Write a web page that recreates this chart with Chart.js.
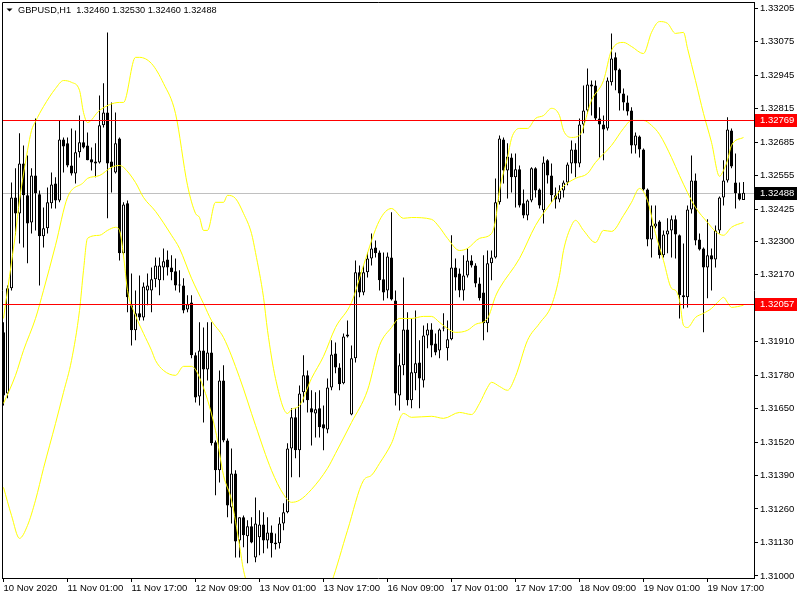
<!DOCTYPE html>
<html>
<head>
<meta charset="utf-8">
<script src="https://cdn.jsdelivr.net/npm/chart.js@4.4.1/dist/chart.umd.min.js"></script>
<style>
  html, body { margin: 0; padding: 0; background: #fff; }
  #wrap { width: 800px; height: 600px; }
</style>
</head>
<body>
<div id="wrap"><canvas id="chartPrecio" width="800" height="600"></canvas></div>
<script>
const simbolo = "GBPUSD,H1";

// velas H1, una por hora desde 10 Nov 09:00
const opens = [
  1.31946,1.31709,1.32117,1.32470,1.32408,1.32602,1.32478,1.32373,1.32555,1.32482,
  1.32319,1.32350,1.32447,1.32524,1.32458,1.32695,1.32680,1.32594,1.32563,1.32645,
  1.32684,1.32672,1.32618,1.32610,1.32606,1.32750,1.32800,1.32610,1.32567,1.32699,
  1.32253,1.32447,1.32051,1.31954,1.32020,1.32004,1.32109,1.32109,1.32152,1.32148,
  1.32198,1.32229,1.32198,1.32183,1.32132,1.32128,1.32035,1.32062,1.31857,1.31697,
  1.31876,1.31802,1.31868,1.31519,1.31410,1.31759,1.31526,1.31266,1.31398,1.31138,
  1.31228,1.31154,1.31193,1.31072,1.31150,1.31200,1.31138,1.31169,1.31130,1.31127,
  1.31204,1.31247,1.31495,1.31616,1.31488,1.31713,1.31779,1.31651,1.31631,1.31651,
  1.31589,1.31569,1.31732,1.31864,1.31810,1.31748,1.31930,1.31627,1.31845,1.32179,
  1.32101,1.32179,1.32233,1.32276,1.32256,1.32152,1.32109,1.32237,1.32070,1.31701,
  1.31818,1.31957,1.31682,1.31787,1.31829,1.31759,1.31934,1.31957,1.31903,1.31876,
  1.31961,1.31884,1.31919,1.32198,1.32175,1.32109,1.32167,1.32225,1.32206,1.32136,
  1.32101,1.31981,1.32214,1.32237,1.32451,1.32695,1.32575,1.32625,1.32548,1.32579,
  1.32447,1.32400,1.32458,1.32583,1.32501,1.32420,1.32614,1.32555,1.32478,1.32462,
  1.32497,1.32528,1.32602,1.32656,1.32602,1.32753,1.32808,1.32909,1.32905,1.32777,
  1.32753,1.32738,1.32917,1.33014,1.32967,1.32874,1.32839,1.32808,1.32672,1.32707,
  1.32656,1.32501,1.32307,1.32357,1.32377,1.32245,1.32326,1.32342,1.32385,1.32323,
  1.32090,1.32082,1.32423,1.32536,1.32307,1.32272,1.32198,1.32245,1.32229,1.32342,
  1.32470,1.32536,1.32730,1.32528,1.32486,1.32460
];
const highs = [
  1.31985,1.32128,1.32528,1.32583,1.32719,1.32672,1.32633,1.32583,1.32777,1.32497,
  1.32431,1.32509,1.32567,1.32548,1.32769,1.32703,1.32703,1.32738,1.32730,1.32788,
  1.32769,1.32722,1.32664,1.32680,1.32866,1.32913,1.33111,1.32839,1.32800,1.32703,
  1.32451,1.32458,1.32175,1.32109,1.32167,1.32140,1.32175,1.32198,1.32237,1.32237,
  1.32272,1.32264,1.32245,1.32233,1.32187,1.32156,1.32090,1.32090,1.31868,1.31985,
  1.31965,1.31985,1.31985,1.31526,1.31798,1.31818,1.31534,1.31495,1.31410,1.31228,
  1.31235,1.31216,1.31228,1.31305,1.31255,1.31247,1.31228,1.31196,1.31165,1.31228,
  1.31282,1.31515,1.31651,1.31651,1.31740,1.31857,1.31798,1.31721,1.31713,1.31721,
  1.31662,1.31767,1.31915,1.31907,1.31826,1.31942,1.31992,1.31895,1.32225,1.32206,
  1.32206,1.32256,1.32330,1.32303,1.32264,1.32256,1.32256,1.32412,1.32109,1.31864,
  1.32159,1.32024,1.32000,1.32031,1.31915,1.31973,1.31981,1.31981,1.31942,1.31961,
  1.32020,1.31992,1.32323,1.32233,1.32194,1.32245,1.32272,1.32245,1.32214,1.32159,
  1.32245,1.32264,1.32264,1.32544,1.32711,1.32703,1.32680,1.32641,1.32641,1.32594,
  1.32501,1.32462,1.32587,1.32587,1.32505,1.32629,1.32618,1.32602,1.32509,1.32517,
  1.32536,1.32606,1.32691,1.32680,1.32777,1.32905,1.32971,1.32924,1.32924,1.32820,
  1.32788,1.32936,1.33107,1.33033,1.32971,1.32893,1.32866,1.32820,1.32722,1.32711,
  1.32660,1.32505,1.32439,1.32439,1.32381,1.32342,1.32389,1.32400,1.32400,1.32326,
  1.32291,1.32439,1.32633,1.32563,1.32330,1.32276,1.32385,1.32272,1.32361,1.32474,
  1.32614,1.32781,1.32738,1.32641,1.32528,1.32530
];
const lows = [
  1.31662,1.31690,1.32109,1.32323,1.32291,1.32276,1.32214,1.32330,1.32342,1.32128,
  1.32276,1.32330,1.32427,1.32427,1.32451,1.32567,1.32587,1.32555,1.32524,1.32625,
  1.32660,1.32614,1.32575,1.32548,1.32602,1.32742,1.32389,1.32489,1.32563,1.32225,
  1.32245,1.32024,1.31895,1.31915,1.31992,1.31992,1.32051,1.32024,1.32121,1.32090,
  1.32148,1.32167,1.32148,1.32109,1.32101,1.32020,1.32024,1.31845,1.31674,1.31662,
  1.31596,1.31759,1.31507,1.31313,1.31363,1.31519,1.31228,1.31204,1.31072,1.31072,
  1.31111,1.31049,1.31127,1.31053,1.31080,1.31088,1.31107,1.31072,1.31103,1.31107,
  1.31177,1.31243,1.31383,1.31457,1.31383,1.31674,1.31635,1.31507,1.31538,1.31538,
  1.31488,1.31554,1.31721,1.31787,1.31721,1.31744,1.31926,1.31624,1.31829,1.32082,
  1.32090,1.32159,1.32206,1.32237,1.32109,1.32070,1.32078,1.32070,1.31662,1.31643,
  1.31779,1.31662,1.31651,1.31721,1.31651,1.31732,1.31884,1.31849,1.31857,1.31845,
  1.31950,1.31837,1.31915,1.32109,1.32082,1.32070,1.32159,1.32198,1.32121,1.32070,
  1.31915,1.31946,1.32148,1.32233,1.32443,1.32524,1.32466,1.32489,1.32431,1.32431,
  1.32389,1.32381,1.32451,1.32470,1.32427,1.32369,1.32524,1.32451,1.32427,1.32451,
  1.32470,1.32517,1.32563,1.32548,1.32587,1.32719,1.32796,1.32788,1.32769,1.32625,
  1.32614,1.32730,1.32905,1.32886,1.32808,1.32808,1.32788,1.32641,1.32641,1.32625,
  1.32497,1.32280,1.32237,1.32350,1.32233,1.32237,1.32253,1.32237,1.32233,1.32000,
  1.32039,1.32043,1.32408,1.32284,1.32264,1.31946,1.32078,1.32109,1.32198,1.32330,
  1.32439,1.32528,1.32583,1.32427,1.32458,1.32460
];
const closes = [
  1.31701,1.32117,1.32470,1.32408,1.32602,1.32478,1.32369,1.32555,1.32486,1.32319,
  1.32350,1.32451,1.32520,1.32458,1.32695,1.32668,1.32594,1.32563,1.32645,1.32684,
  1.32664,1.32614,1.32606,1.32602,1.32750,1.32800,1.32602,1.32587,1.32680,1.32253,
  1.32443,1.32082,1.31954,1.32020,1.32004,1.32124,1.32128,1.32152,1.32206,1.32206,
  1.32222,1.32198,1.32179,1.32128,1.32128,1.32031,1.32055,1.31857,1.31693,1.31876,
  1.31802,1.31868,1.31515,1.31410,1.31759,1.31526,1.31274,1.31398,1.31134,1.31228,
  1.31158,1.31193,1.31130,1.31204,1.31200,1.31138,1.31169,1.31127,1.31123,1.31204,
  1.31247,1.31495,1.31616,1.31488,1.31709,1.31779,1.31682,1.31635,1.31647,1.31577,
  1.31573,1.31732,1.31860,1.31810,1.31744,1.31930,1.31938,1.31845,1.32179,1.32101,
  1.32179,1.32233,1.32272,1.32253,1.32148,1.32101,1.32241,1.32074,1.31709,1.31818,
  1.31957,1.31682,1.31791,1.31826,1.31767,1.31934,1.31957,1.31895,1.31868,1.31957,
  1.31965,1.31919,1.32198,1.32159,1.32109,1.32167,1.32225,1.32206,1.32136,1.32078,
  1.31981,1.32214,1.32237,1.32451,1.32699,1.32575,1.32629,1.32548,1.32579,1.32439,
  1.32400,1.32458,1.32583,1.32497,1.32439,1.32606,1.32555,1.32478,1.32462,1.32497,
  1.32528,1.32598,1.32656,1.32602,1.32753,1.32808,1.32909,1.32901,1.32777,1.32753,
  1.32734,1.32924,1.33010,1.32963,1.32874,1.32839,1.32804,1.32672,1.32711,1.32656,
  1.32501,1.32307,1.32361,1.32369,1.32245,1.32326,1.32342,1.32385,1.32326,1.32090,
  1.32082,1.32423,1.32536,1.32303,1.32268,1.32198,1.32245,1.32229,1.32342,1.32470,
  1.32536,1.32734,1.32590,1.32486,1.32462,1.32488
];

// Bandas de Bollinger: [vela, precio]
const upperBand = [
  [0,1.32000],[1,1.32109],[2,1.32218],[3,1.32330],[4,1.32458],[6,1.32652],[7,1.32730],[8,1.32765],
  [10,1.32823],[13,1.32893],[15,1.32924],[17,1.32917],[19,1.32886],[20,1.32800],[21,1.32761],
  [24,1.32808],[29,1.32839],[30,1.32839],[33,1.33014],[34,1.33014],[37,1.32990],[40,1.32913],
  [43,1.32796],[46,1.32517],[48,1.32408],[49,1.32392],[50,1.32342],[51,1.32342],[53,1.32451],
  [55,1.32451],[56,1.32478],[58,1.32466],[60,1.32408],[62,1.32330],[63,1.32256],[65,1.32082],
  [66,1.31954],[68,1.31767],[71,1.31631],[72,1.31647],[74,1.31662],[77,1.31767],[80,1.31853],
  [83,1.31965],[87,1.32062],[90,1.32206],[94,1.32381],[97,1.32427],[100,1.32389],[102,1.32392],
  [107,1.32385],[109,1.32354],[111,1.32311],[114,1.32264],[116,1.32272],[119,1.32311],
  [122,1.32330],[123,1.32381],[124,1.32497],[126,1.32625],[127,1.32699],[128,1.32730],
  [129,1.32738],[131,1.32738],[133,1.32777],[135,1.32788],[137,1.32816],[139,1.32788],
  [140,1.32730],[142,1.32703],[144,1.32711],[147,1.32847],[150,1.32924],[152,1.33041],
  [155,1.33072],[157,1.33056],[160,1.33029],[162,1.33111],[164,1.33153],[166,1.33146],
  [168,1.33107],[170,1.33111],[171,1.33049],[173,1.32924],[175,1.32796],[177,1.32684],
  [179,1.32552],[180,1.32575],[181,1.32614],[182,1.32672],[185,1.32703]
];
const middleBand = [
  [0,1.31670],[3,1.31779],[5,1.31876],[8,1.32000],[10,1.32109],[13,1.32284],[16,1.32470],
  [20,1.32528],[21,1.32544],[24,1.32555],[27,1.32587],[29,1.32594],[30,1.32587],[33,1.32528],
  [35,1.32470],[38,1.32416],[42,1.32323],[44,1.32272],[47,1.32156],[50,1.32058],[52,1.31992],
  [55,1.31926],[59,1.31771],[63,1.31585],[67,1.31410],[70,1.31317],[72,1.31286],[74,1.31294],
  [77,1.31336],[81,1.31418],[83,1.31476],[87,1.31596],[91,1.31721],[94,1.31895],[97,1.31965],
  [99,1.32000],[102,1.32000],[105,1.32008],[107,1.32008],[109,1.31985],[111,1.31961],
  [113,1.31946],[116,1.31954],[118,1.31977],[121,1.32000],[123,1.32086],[124,1.32117],
  [129,1.32233],[133,1.32361],[137,1.32451],[140,1.32513],[143,1.32544],[146,1.32563],
  [148,1.32606],[152,1.32672],[155,1.32738],[157,1.32769],[160,1.32769],[162,1.32750],
  [164,1.32715],[167,1.32625],[169,1.32555],[171,1.32489],[173,1.32431],[176,1.32373],
  [178,1.32338],[180,1.32323],[182,1.32354],[185,1.32373]
];
const lowerBand = [
  [0,1.31344],[2,1.31235],[4,1.31146],[6,1.31196],[8,1.31294],[10,1.31418],[13,1.31592],
  [15,1.31713],[17,1.31837],[19,1.32031],[20,1.32187],[21,1.32311],[24,1.32323],[26,1.32342],
  [28,1.32354],[29,1.32342],[30,1.32245],[31,1.32109],[33,1.32012],[35,1.31942],[37,1.31876],
  [38,1.31837],[40,1.31798],[43,1.31779],[45,1.31814],[47,1.31814],[49,1.31771],[53,1.31565],
  [55,1.31391],[57,1.31294],[59,1.31119],[60,1.31022],[62,1.30925],[66,1.30828],[71,1.30750],
  [76,1.30808],[80,1.30905],[82,1.30975],[86,1.31177],[90,1.31371],[92,1.31391],[94,1.31437],
  [97,1.31515],[100,1.31631],[102,1.31616],[107,1.31620],[110,1.31612],[114,1.31635],
  [117,1.31627],[119,1.31670],[121,1.31732],[122,1.31752],[124,1.31736],[126,1.31721],
  [128,1.31775],[131,1.31915],[134,1.31981],[137,1.32051],[139,1.32167],[140,1.32264],
  [142,1.32361],[143,1.32381],[145,1.32342],[148,1.32295],[150,1.32342],[152,1.32338],
  [155,1.32400],[157,1.32451],[159,1.32505],[161,1.32458],[163,1.32330],[165,1.32225],
  [167,1.32117],[168,1.32109],[169,1.32070],[170,1.31973],[171,1.31965],[173,1.32004],
  [175,1.32020],[177,1.32039],[179,1.32070],[180,1.32082],[181,1.32062],[182,1.32043],
  [185,1.32051]
];

const priceTicks = [1.33205,1.33075,1.32945,1.32815,1.32685,1.32555,1.32425,1.32300,1.32170,
  1.32040,1.31910,1.31780,1.31650,1.31520,1.31390,1.31260,1.31130,1.31000];
const timeTickBars = [0,16,32,48,64,80,96,112,128,144,160,176];
const timeTickLabels = ["10 Nov 2020","11 Nov 01:00","11 Nov 17:00","12 Nov 09:00","13 Nov 01:00",
  "13 Nov 17:00","16 Nov 09:00","17 Nov 01:00","17 Nov 17:00","18 Nov 09:00","19 Nov 01:00","19 Nov 17:00"];
const redLevels = [1.32769, 1.32057];
const bidPrice = 1.32488;

const fuente = "'Liberation Sans', Arial, sans-serif";

const wicks = highs.map((h, i) => ({ x: i, y: [lows[i], h] }));
const bodies = opens.map((o, i) => ({ x: i, y: [o, closes[i]] }));
const bodyColors = opens.map((o, i) => closes[i] >= o ? "#ffffff" : "#000000");

function bandDataset(puntos) {
  return {
    type: "line",
    data: puntos.map(p => ({ x: p[0], y: p[1] })),
    borderColor: "#ffff00",
    borderWidth: 1,
    pointRadius: 0,
    cubicInterpolationMode: "monotone",
    order: 0
  };
}

function lineaH(ctx, area, py, color) {
  ctx.strokeStyle = color;
  ctx.beginPath();
  ctx.moveTo(area.left, py);
  ctx.lineTo(area.right, py);
  ctx.stroke();
}

function etiqueta(ctx, py, texto, fondo) {
  ctx.fillStyle = fondo;
  ctx.fillRect(755, Math.round(py) - 6, 42, 13);
  ctx.fillStyle = "#ffffff";
  ctx.textBaseline = "middle";
  ctx.textAlign = "left";
  ctx.fillText(texto, 760, Math.round(py) + 0.5);
}

const marcoPlugin = {
  id: "marco",
  beforeDatasetsDraw(chart) {
    const { ctx, chartArea, scales } = chart;
    ctx.save();
    ctx.lineWidth = 1;
    lineaH(ctx, chartArea, Math.round(scales.y.getPixelForValue(bidPrice)) + 0.5, "#c0c0c0");
    ctx.restore();
  },
  afterDatasetsDraw(chart) {
    const { ctx, chartArea, scales } = chart;
    ctx.save();
    ctx.lineWidth = 1;
    redLevels.forEach(v => {
      lineaH(ctx, chartArea, Math.round(scales.y.getPixelForValue(v)) + 0.5, "#ff0000");
    });
    ctx.restore();
  },
  afterDraw(chart) {
    const { ctx, chartArea, scales } = chart;
    ctx.save();
    // marco superior e izquierdo
    ctx.strokeStyle = "#000";
    ctx.lineWidth = 1;
    ctx.beginPath();
    ctx.moveTo(chartArea.left + 0.5, chartArea.bottom);
    ctx.lineTo(chartArea.left + 0.5, chartArea.top + 0.5);
    ctx.lineTo(chartArea.right, chartArea.top + 0.5);
    ctx.stroke();

    ctx.font = "9.5px " + fuente;
    redLevels.forEach(v => etiqueta(ctx, scales.y.getPixelForValue(v), v.toFixed(5), "#ff0000"));
    etiqueta(ctx, scales.y.getPixelForValue(bidPrice), bidPrice.toFixed(5), "#000000");

    // titulo
    ctx.fillStyle = "#000";
    ctx.beginPath();
    ctx.moveTo(6.5, 8.5);
    ctx.lineTo(12.5, 8.5);
    ctx.lineTo(9.5, 11.5);
    ctx.closePath();
    ctx.fill();
    const n = opens.length - 1;
    const titulo = simbolo + "  " + [opens[n], highs[n], lows[n], closes[n]].map(v => v.toFixed(5)).join(" ");
    ctx.font = "9.2px " + fuente;
    ctx.textBaseline = "middle";
    ctx.textAlign = "left";
    ctx.fillText(titulo, 18, 10.5);
    ctx.restore();
  }
};

const ctx = document.getElementById("chartPrecio").getContext("2d");

new Chart(ctx, {
  type: "bar",
  data: {
    datasets: [
      bandDataset(upperBand),
      bandDataset(middleBand),
      bandDataset(lowerBand),
      {
        data: bodies,
        backgroundColor: bodyColors,
        borderColor: "#000000",
        borderWidth: 1,
        borderSkipped: false,
        barThickness: 3,
        minBarLength: 1,
        grouped: false,
        inflateAmount: 0,
        order: 1
      },
      {
        data: wicks,
        backgroundColor: "#000000",
        borderWidth: 0,
        barThickness: 1,
        grouped: false,
        inflateAmount: 0,
        order: 2
      }
    ]
  },
  options: {
    responsive: false,
    animation: false,
    devicePixelRatio: 1,
    layout: { padding: { left: 2, top: 2, right: 0, bottom: 0 } },
    plugins: { legend: { display: false }, tooltip: { enabled: false } },
    scales: {
      x: {
        type: "linear",
        min: -0.375,
        max: 187.625,
        offset: false,
        afterBuildTicks: ax => { ax.ticks = timeTickBars.map(v => ({ value: v })); },
        afterFit: ax => { ax.height = 22; ax.paddingLeft = 0; ax.paddingRight = 0; },
        grid: { display: true, drawOnChartArea: false, drawTicks: true, tickLength: 4, color: "#000", offset: false },
        border: { display: true, color: "#000" },
        ticks: {
          autoSkip: false,
          maxRotation: 0,
          align: "start",
          padding: 1,
          color: "#000",
          font: { family: fuente, size: 9.5 },
          callback: v => timeTickLabels[timeTickBars.indexOf(v)]
        }
      },
      y: {
        type: "linear",
        position: "right",
        min: 1.30992,
        max: 1.33229,
        afterBuildTicks: ax => { ax.ticks = priceTicks.map(v => ({ value: v })); },
        afterFit: ax => { ax.width = 46; ax.paddingTop = 0; ax.paddingBottom = 0; },
        grid: { drawOnChartArea: false, drawTicks: true, tickLength: 4, color: "#000" },
        border: { display: true, color: "#000" },
        ticks: {
          autoSkip: false,
          padding: 2,
          color: "#000",
          font: { family: fuente, size: 9.5 },
          callback: v => v.toFixed(5)
        }
      }
    }
  },
  plugins: [marcoPlugin]
});
</script>
</body>
</html>
